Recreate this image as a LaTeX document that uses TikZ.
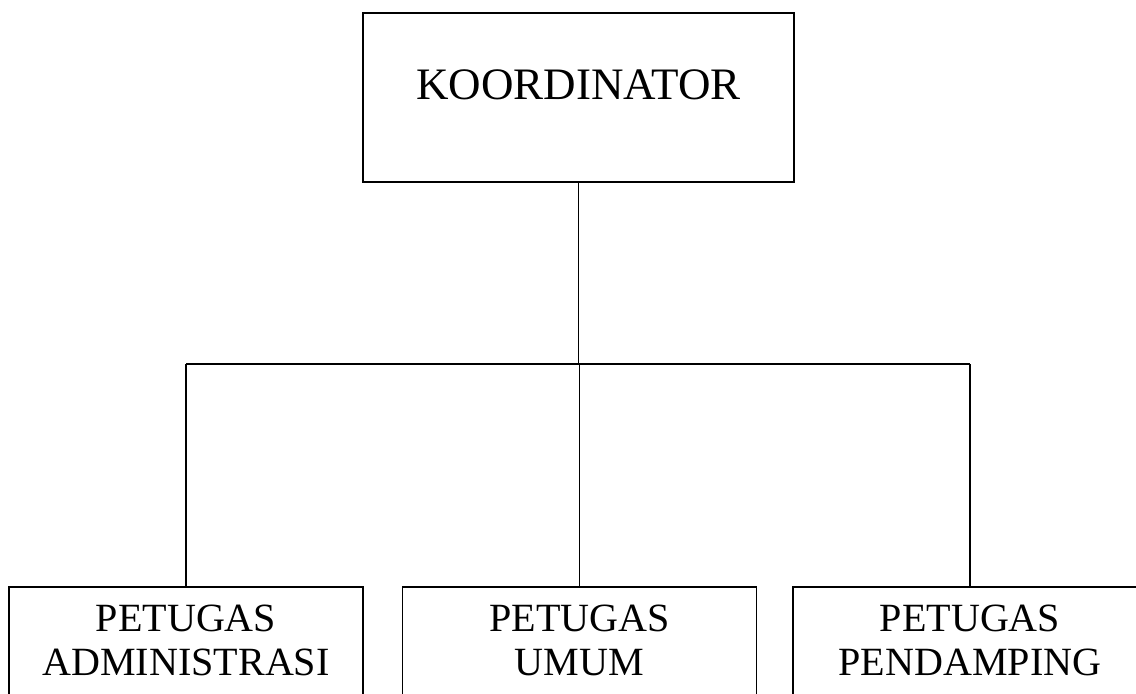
\documentclass[tikz,border=0pt]{standalone}
\usepackage{fontspec}
\setmainfont{Liberation Serif}
\tikzset{
  chief/.style = {
    draw,
    line width=1.3pt,
    minimum width=306.6pt,
    minimum height=120.2pt,
    inner sep=0pt,
    text height=21.2pt,
    text depth=17.8pt,
    font={\fontsize{32}{38}\selectfont}
  },
  staff/.style = {
    draw,
    line width=1.3pt,
    anchor=north,
    minimum width=251.8pt,
    inner xsep=0pt,
    inner ysep=13pt,
    align=center,
    text depth=80pt,
    font={\fontsize{28.5}{31.3}\selectfont}
  },
  branch/.style = {
    line width=1.3pt
  },
}

\begin{document}
\begin{tikzpicture}[x=0.025cm,y=-0.025cm]

  \useasboundingbox (0,0) rectangle (1136,694);
  \clip (0,0) rectangle (1136,694);

  \node[chief] (koord) at (578.5,97.5) {KOORDINATOR};

  \foreach \name/\xpos/\job in {
    adm/186/ADMINISTRASI,
    umum/579.5/UMUM,
    pend/970/PENDAMPING
  } {
    \node[staff] (\name) at (\xpos,586) {PETUGAS\\\job};
  }

  \coordinate (bar) at (0,364);
  \draw[branch] (koord.south) -- (koord.south |- bar);
  \draw[branch] (adm.north |- bar) -- (pend.north |- bar);
  \foreach \name in {adm,umum,pend} {
    \draw[branch] (\name.north |- bar) -- (\name.north);
  }

\end{tikzpicture}
\end{document}
